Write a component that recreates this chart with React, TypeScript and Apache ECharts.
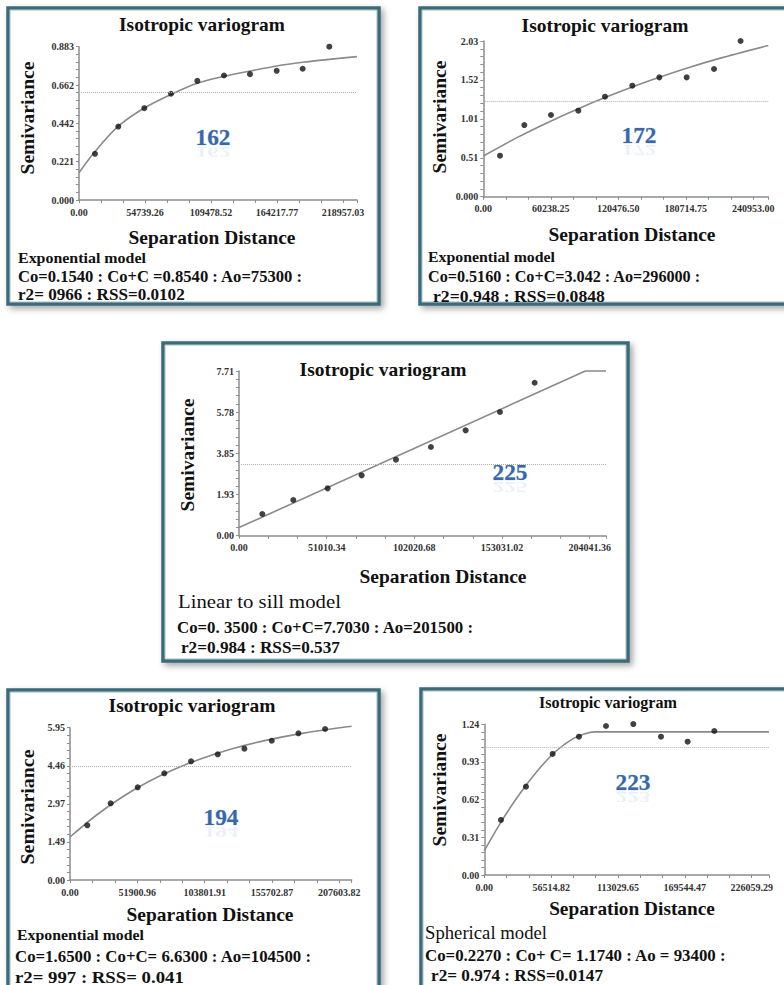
import React, { useEffect, useRef } from "react";
import * as echarts from "echarts";

const SERIF = "Liberation Serif";

// ---------- Panel "162" (exponential) ----------
const p162PointX = [13270, 32600, 54170, 76300, 98130, 120260, 141800, 163940, 185500, 207600];
const p162PointY = [0.266, 0.423, 0.529, 0.612, 0.686, 0.717, 0.725, 0.744, 0.756, 0.883];
const p162CurveX = [0, 13270, 32600, 54170, 76300, 98130, 120260, 141800, 163940, 185500, 207600, 230560];
const p162CurveY = [0.157, 0.279, 0.425, 0.53, 0.608, 0.672, 0.712, 0.743, 0.772, 0.793, 0.81, 0.826];
const p162XTicks = ["0.00", "54739.26", "109478.52", "164217.77", "218957.03"];
const p162YTicks = ["0.000", "0.221", "0.442", "0.662", "0.883"];
const p162Sill = 0.622;
const p162Lines = ["Exponential model", "Co=0.1540 : Co+C =0.8540 : Ao=75300 :", "r2= 0966 : RSS=0.0102"];

// ---------- Panel "172" (exponential) ----------
const p172PointX = [14900, 36600, 60400, 84800, 108600, 133000, 157100, 181500, 205900, 229600];
const p172PointY = [0.535, 0.934, 1.065, 1.121, 1.304, 1.447, 1.556, 1.556, 1.665, 2.03];
const p172CurveX = [0, 30000, 60000, 90000, 120000, 150000, 180000, 210000, 254340];
const p172CurveY = [0.53, 0.77, 0.985, 1.18, 1.357, 1.52, 1.668, 1.8, 1.972];
const p172XTicks = ["0.00", "60238.25", "120476.50", "180714.75", "240953.00"];
const p172YTicks = ["0.000", "0.51", "1.01", "1.52", "2.03"];
const p172Sill = 1.239;
const p172Lines = ["Exponential model", "Co=0.5160 : Co+C=3.042 : Ao=296000 :", "r2=0.948 : RSS=0.0848"];

// ---------- Panel "225" (linear to sill) ----------
const p225PointX = [13560, 31600, 51580, 71360, 91320, 111680, 131850, 151800, 172000];
const p225PointY = [1.015, 1.67, 2.216, 2.824, 3.558, 4.152, 4.931, 5.79, 7.16];
const p225CurveX = [0, 201500, 213520];
const p225CurveY = [0.38, 7.71, 7.71];
const p225XTicks = ["0.00", "51010.34", "102020.68", "153031.02", "204041.36"];
const p225YTicks = ["0.00", "1.93", "3.85", "5.78", "7.71"];
const p225Sill = 3.34;
const p225Lines = ["Linear to sill model", "Co=0. 3500 : Co+C=7.7030 : Ao=201500 :", "r2=0.984 : RSS=0.537"];

// ---------- Panel "194" (exponential) ----------
const p194PointX = [13350, 31360, 52180, 72720, 93310, 113880, 134430, 155520, 176080, 196650];
const p194PointY = [2.136, 2.995, 3.62, 4.167, 4.636, 4.91, 5.13, 5.44, 5.73, 5.9];
const p194CurveX = [0, 20000, 40000, 60000, 80000, 100000, 125000, 150000, 180000, 217160];
const p194CurveY = [1.68, 2.52, 3.234, 3.827, 4.314, 4.718, 5.127, 5.445, 5.739, 6.005];
const p194XTicks = ["0.00", "51900.96", "103801.91", "155702.87", "207603.82"];
const p194YTicks = ["0.00", "1.49", "2.97", "4.46", "5.95"];
const p194Sill = 4.43;
const p194Lines = ["Exponential model", "Co=1.6500 : Co+C= 6.6300 : Ao=104500 :", "r2= 997 : RSS= 0.041"];

// ---------- Panel "223" (spherical) ----------
const p223PointX = [14100, 35230, 57760, 80030, 102870, 125960, 149360, 171900, 194440];
const p223PointY = [0.453, 0.727, 0.996, 1.138, 1.226, 1.242, 1.138, 1.097, 1.185];
const p223CurveX = [0, 15000, 30000, 45000, 60000, 75000, 85000, 93400, 120000, 180000, 240680];
const p223CurveY = [0.2, 0.45, 0.668, 0.858, 1.014, 1.122, 1.163, 1.178, 1.178, 1.178, 1.178];
const p223XTicks = ["0.00", "56514.82", "113029.65", "169544.47", "226059.29"];
const p223YTicks = ["0.00", "0.31", "0.62", "0.93", "1.24"];
const p223Sill = 1.048;
const p223Lines = ["Spherical model", "Co=0.2270 : Co+ C= 1.1740 : Ao = 93400 :", "r2= 0.974 : RSS=0.0147"];

const TITLE = "Isotropic variogram";
const YNAME = "Semivariance";
const XNAME = "Separation Distance";

const zip = (a: number[], b: number[]) => a.map((v, i) => [v, b[i]]);

type Layout = {
  id: string;
  box: [number, number, number, number];
  grid: { left: number; top: number; width: number; height: number };
  xMax: number;
  smooth: boolean;
  title: [number, number, number, number];
  semi: [number, number, number];
  sep: [number, number, number];
  linesX: number[];
  linesY: number[];
  linesW: number[];
  firstFont: string;
  num: [number, number];
};

const panels = [
  { px: p162PointX, py: p162PointY, cx: p162CurveX, cy: p162CurveY, xt: p162XTicks, yt: p162YTicks, sill: p162Sill, lines: p162Lines },
  { px: p172PointX, py: p172PointY, cx: p172CurveX, cy: p172CurveY, xt: p172XTicks, yt: p172YTicks, sill: p172Sill, lines: p172Lines },
  { px: p225PointX, py: p225PointY, cx: p225CurveX, cy: p225CurveY, xt: p225XTicks, yt: p225YTicks, sill: p225Sill, lines: p225Lines },
  { px: p194PointX, py: p194PointY, cx: p194CurveX, cy: p194CurveY, xt: p194XTicks, yt: p194YTicks, sill: p194Sill, lines: p194Lines },
  { px: p223PointX, py: p223PointY, cx: p223CurveX, cy: p223CurveY, xt: p223XTicks, yt: p223YTicks, sill: p223Sill, lines: p223Lines },
];

const layouts: Layout[] = [
  {
    id: "162", box: [8, 8, 371, 296], grid: { left: 79, top: 46.7, width: 278, height: 153.3 }, xMax: 230560, smooth: true,
    title: [202, 25, 166, 18], semi: [28, 118, 113], sep: [212, 238, 167],
    linesX: [18, 18, 18], linesY: [258, 277, 295], linesW: [128, 285, 167], firstFont: "bold 15px", num: [213, 137],
  },
  {
    id: "172", box: [420, 8, 380, 296], grid: { left: 483.3, top: 41, width: 285, height: 155.7 }, xMax: 254340, smooth: true,
    title: [605, 26, 167, 18], semi: [440, 117, 113], sep: [632, 235, 167],
    linesX: [428, 428, 433], linesY: [257, 277, 297], linesW: [127, 273, 172], firstFont: "bold 15px", num: [639, 135],
  },
  {
    id: "225", box: [163, 343, 465, 318], grid: { left: 239, top: 371, width: 367, height: 164.7 }, xMax: 213520, smooth: false,
    title: [383, 370, 167, 18], semi: [188, 455, 113], sep: [443, 577, 167],
    linesX: [178, 177, 181], linesY: [602, 628, 648], linesW: [163, 297, 159], firstFont: "18px", num: [510, 472],
  },
  {
    id: "194", box: [8, 690, 371, 330], grid: { left: 70, top: 727.7, width: 281.7, height: 152.3 }, xMax: 217160, smooth: true,
    title: [192, 706, 167, 18], semi: [28, 807, 115], sep: [210, 915, 167],
    linesX: [17, 15, 15], linesY: [935, 957, 977], linesW: [127, 297, 169], firstFont: "bold 15px", num: [221, 817],
  },
  {
    id: "223", box: [421, 689, 380, 330], grid: { left: 484.3, top: 724.3, width: 284.7, height: 150.7 }, xMax: 240680, smooth: true,
    title: [608, 703, 138, 16], semi: [440, 790, 113], sep: [632, 909, 166],
    linesX: [425, 425, 431], linesY: [933, 956, 976], linesW: [122, 302, 172], firstFont: "18px", num: [633, 782],
  },
];

function tickText(v: number, labels: string[]) {
  const step = parseFloat(labels[labels.length - 1]) / (labels.length - 1);
  const k = Math.round(v / step);
  if (k < 0 || k >= labels.length) return "";
  return Math.abs(v - k * step) < step * 0.01 ? labels[k] : "";
}

let measureCtx: CanvasRenderingContext2D | null = null;
function fitScale(text: string, font: string, target: number) {
  try {
    if (!measureCtx) measureCtx = document.createElement("canvas").getContext("2d");
    if (!measureCtx) return 1;
    measureCtx.font = font;
    const w = measureCtx.measureText(text).width;
    return w > 0 ? target / w : 1;
  } catch (e) {
    return 1;
  }
}

function parseFont(font: string) {
  const parts = font.trim().split(/\s+/);
  const size = parseFloat(parts[parts.length - 1]);
  const weight = parts.length > 1 ? parts[0] : "normal";
  return { size, weight };
}

function txt(text: string, x: number, y: number, font: string, width: number, align: string, extra: any = {}) {
  const { size, weight } = parseFont(font);
  const canvasFont = `${weight} ${size}px "Liberation Serif"`;
  return {
    type: "text",
    x,
    y,
    z: 20,
    scaleX: fitScale(text, canvasFont, width),
    silent: true,
    ...extra,
    style: {
      text,
      x: 0,
      y: 0,
      fontFamily: SERIF,
      fontSize: size,
      fontWeight: weight,
      fill: "#111",
      textAlign: align,
      align,
      textVerticalAlign: "middle",
      verticalAlign: "middle",
      ...(extra.style || {}),
    },
  };
}

function buildOption() {
  const grid: any[] = [];
  const xAxis: any[] = [];
  const yAxis: any[] = [];
  const series: any[] = [];
  const graphic: any[] = [];

  panels.forEach((p, i) => {
    const L = layouts[i];
    const xStep = parseFloat(p.xt[p.xt.length - 1]) / (p.xt.length - 1);
    const yMax = parseFloat(p.yt[p.yt.length - 1]);
    const yStep = yMax / (p.yt.length - 1);

    grid.push({ ...L.grid, containLabel: false, outerBoundsMode: "none" });

    const axisCommon = {
      splitLine: { show: false },
      axisLine: { show: true, onZero: false, lineStyle: { color: "#8d8d8d", width: 1.5 } },
      axisTick: { show: true, length: 3, lineStyle: { color: "#8d8d8d", width: 1 } },
    };
    const labelCommon = {
      fontFamily: SERIF,
      fontWeight: "bold",
      fontSize: 10,
      color: "#333",
      showMinLabel: true,
      showMaxLabel: true,
    };

    xAxis.push({
      type: "value",
      gridIndex: i,
      min: 0,
      max: L.xMax,
      interval: xStep / 3,
      ...axisCommon,
      axisLabel: { ...labelCommon, margin: 7, formatter: (v: number) => tickText(v, p.xt) },
    });
    yAxis.push({
      type: "value",
      gridIndex: i,
      min: 0,
      max: yMax,
      interval: yStep / 5,
      ...axisCommon,
      axisLabel: { ...labelCommon, margin: 5, formatter: (v: number) => tickText(v, p.yt) },
    });

    series.push({
      type: "line",
      xAxisIndex: i,
      yAxisIndex: i,
      data: zip(p.cx, p.cy),
      smooth: L.smooth ? 0.3 : false,
      showSymbol: false,
      symbol: "none",
      clip: false,
      lineStyle: { color: "#8a8a8a", width: 1.6 },
      z: 2,
      silent: true,
    });
    series.push({
      type: "scatter",
      xAxisIndex: i,
      yAxisIndex: i,
      data: zip(p.px, p.py),
      symbolSize: 6,
      clip: false,
      itemStyle: { color: "#111" },
      z: 3,
      silent: true,
      markLine: {
        silent: true,
        symbol: ["none", "none"],
        label: { show: false },
        lineStyle: { type: "dotted", color: "#b0b0b0", width: 1 },
        data: [{ yAxis: p.sill }],
      },
    });

    const [bx, by, bw, bh] = L.box;
    graphic.push({
      type: "rect",
      z: -10,
      silent: true,
      shape: { x: bx, y: by, width: bw, height: bh },
      style: {
        fill: "#fff",
        stroke: "#3b6a78",
        lineWidth: 3.5,
        shadowBlur: 6,
        shadowOffsetX: 3,
        shadowOffsetY: 3,
        shadowColor: "rgba(0,0,0,0.35)",
      },
    });
    graphic.push({
      type: "rect",
      z: -9,
      silent: true,
      shape: { x: bx + 2.2, y: by + 2.2, width: bw - 4.4, height: bh - 4.4 },
      style: { fill: "none", stroke: "#a8c3c9", lineWidth: 0.8 },
    });

    graphic.push(txt(TITLE, L.title[0], L.title[1], `bold ${L.title[3]}px`, L.title[2], "center"));
    graphic.push(txt(YNAME, L.semi[0], L.semi[1], "bold 18px", L.semi[2], "center", { rotation: Math.PI / 2 }));
    graphic.push(txt(XNAME, L.sep[0], L.sep[1], "bold 18px", L.sep[2], "center"));
    p.lines.forEach((line, k) => {
      const font = k === 0 ? L.firstFont : "bold 16px";
      graphic.push(txt(line, L.linesX[k], L.linesY[k], font, L.linesW[k], "left"));
    });

    const [nx, ny] = L.num;
    graphic.push(
      txt(L.id, nx, ny + 15, "bold 23px", 35, "center", {
        scaleY: -0.6,
        style: { fill: "rgba(90,140,200,0.13)" },
      })
    );
    graphic.push(
      txt(L.id, nx, ny, "bold 23px", 35, "center", {
        style: {
          fill: "#3868aa",
          stroke: "rgba(120,160,215,0.6)",
          lineWidth: 0.6,
        },
      })
    );
  });

  return {
    animation: false,
    backgroundColor: "#ffffff",
    grid,
    xAxis,
    yAxis,
    series,
    graphic: { elements: graphic },
  };
}

export default function App() {
  const ref = useRef<HTMLDivElement>(null);
  useEffect(() => {
    document.body.style.margin = "0";
    if (!ref.current) return;
    const chart = echarts.init(ref.current, undefined, { renderer: "svg" });
    chart.setOption(buildOption() as any);
    return () => chart.dispose();
  }, []);
  return <div ref={ref} style={{ width: 784, height: 985, background: "#fff" }} />;
}
